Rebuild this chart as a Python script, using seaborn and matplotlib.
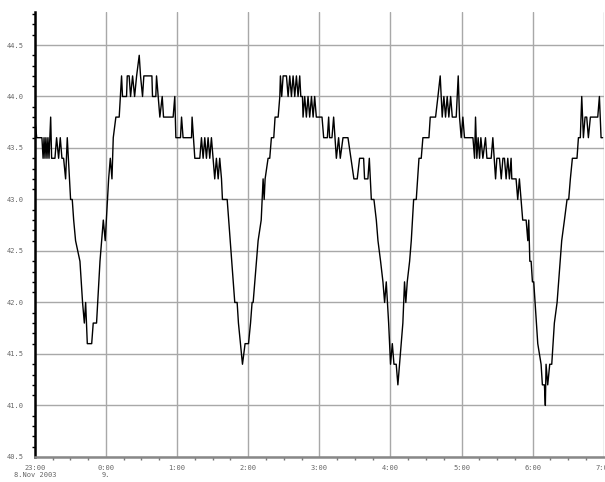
import pandas as pd
import matplotlib
matplotlib.use('Agg')
import matplotlib.pyplot as plt
import matplotlib.dates as mdates
from matplotlib.ticker import MultipleLocator
import seaborn as sns

# minutes after 8 Nov 2003 23:00 and the logged value
minutes = [0, 1.6, 6, 7, 7.8, 8.6, 9.4, 10.3, 11.1, 12, 13.4, 14.2, 17, 18.4, 20.1, 21.5, 22.9, 24.3, 26, 27.4,
           30.2, 31.6, 32.8, 34.4, 38.1, 40.3, 41.8, 42.9, 44.3, 48, 49.3, 52.1, 55, 57.8, 59.4, 62.3, 63.7, 65.1, 66.2,
           68.4, 71.2, 73.2, 74, 77.4, 78, 79.6, 80.8, 82.5, 84.2, 85.9, 88.1, 89.2, 90.9, 92, 98.8, 99.3, 102.1,
           102.7, 105.5, 107.5, 108.6, 116.7, 118.1, 119, 122.9, 123.8, 125.1, 132.2, 132.7, 135,
           139.2, 140.6, 142, 143.4, 144.8, 146.2, 147.6, 149, 150.4, 151.8, 153.2, 154.7, 156,
           157.5, 158.3, 162.3, 168.7, 170.7, 171.8, 175.2, 177.4, 180.3, 182, 183.3, 184.2, 188.4, 191, 192.6,
           193.5, 194.3, 196.8, 198.2, 199.6, 201.6, 202.7, 205.3, 206.7, 207.2, 208.3, 209.5, 212.3, 213.7,
           215.1, 216.5, 217.9, 219.3, 220.7, 222.1, 223.5, 224.4, 225.8, 226.3, 227.7, 229.1, 230.5, 231.9,
           233.4, 234.8, 236.1,
           237.5, 242.3, 243.7, 246.8, 247.9, 248.7, 250.7, 252.1, 254.4, 256.3, 257.7, 260, 264.2, 269.2, 272,
           274, 277.4, 278.2, 281, 282.2, 283.9, 286.1, 288.1, 289.5, 291.7, 293.7, 295.1, 296.5, 298.5, 300.1,
           301.6, 303, 304.9, 306.3, 310.5, 311.9, 313, 314.2,
           316.2, 317.6, 319.6, 321.8, 324.1, 326, 327.4, 332.5, 333.6, 338.1, 340.1, 342, 343.7, 345.1, 346.5,
           347.9, 349.3, 350.8, 352.2, 355.5, 357.2, 358.3, 359.7, 361.1, 362.5, 369.6, 371, 371.8, 372.9, 374,
           375.2, 376.3, 378, 380.2, 381.4, 385, 386.4, 388.7, 389.8, 392, 393.5, 394.9,
           396.2, 397.6, 399, 400.4, 401.8, 402.4, 406, 407.4, 408.8, 410.2, 411.6, 414.5, 415.9, 416.7, 417.6,
           418.7, 419.8, 420.9, 424.3, 427.1, 428.2, 429.9, 430.7, 431.3, 432.7, 434.4, 436.1, 438.3, 440.6,
           444.5, 446.8, 449, 450.4, 451.8, 453.5, 457.4, 458.6, 460.2, 461.4, 462.8, 464.2, 465.6, 467, 468.7,
           474.9, 476.3, 477.7, 479]
values = [43.8, 43.6, 43.6, 43.4, 43.6, 43.4, 43.6, 43.4, 43.6, 43.4, 43.8, 43.4, 43.4, 43.6, 43.4, 43.6, 43.4, 43.4, 43.2, 43.6,
          43.0, 43.0, 42.8, 42.6, 42.4, 42.0, 41.8, 42.0, 41.6, 41.6, 41.8, 41.8, 42.4, 42.8, 42.6, 43.2, 43.4, 43.2, 43.6,
          43.8, 43.8, 44.2, 44.0, 44.0, 44.2, 44.2, 44.0, 44.2, 44.0, 44.2, 44.4, 44.2, 44.0, 44.2, 44.2, 44.0, 44.0,
          44.2, 43.8, 44.0, 43.8, 43.8, 44.0, 43.6, 43.6, 43.8, 43.6, 43.6, 43.8, 43.4,
          43.4, 43.6, 43.4, 43.6, 43.4, 43.6, 43.4, 43.6, 43.4, 43.2, 43.4, 43.2, 43.4,
          43.2, 43.0, 43.0, 42.0, 42.0, 41.8, 41.4, 41.6, 41.6, 41.8, 42.0, 42.0, 42.6, 42.8, 43.2,
          43.0, 43.2, 43.4, 43.4, 43.6, 43.6, 43.8, 43.8, 44.0, 44.2, 44.0, 44.2, 44.2, 44.0,
          44.2, 44.0, 44.2, 44.0, 44.2, 44.0, 44.2, 44.0, 44.0, 43.8, 44.0, 43.8, 44.0, 43.8,
          44.0, 43.8, 44.0,
          43.8, 43.8, 43.6, 43.6, 43.8, 43.6, 43.6, 43.8, 43.4, 43.6, 43.4, 43.6, 43.6, 43.2, 43.2,
          43.4, 43.4, 43.2, 43.2, 43.4, 43.0, 43.0, 42.8, 42.6, 42.4, 42.2, 42.0, 42.2, 41.8, 41.4,
          41.6, 41.4, 41.4, 41.2, 41.8, 42.2, 42.0, 42.2,
          42.4, 42.6, 43.0, 43.0, 43.4, 43.4, 43.6, 43.6, 43.8, 43.8, 44.0, 44.2, 43.8, 44.0, 43.8,
          44.0, 43.8, 44.0, 43.8, 43.8, 44.2, 43.8, 43.6, 43.8, 43.6, 43.6, 43.4, 43.8, 43.4, 43.6,
          43.4, 43.6, 43.4, 43.6, 43.4, 43.4, 43.6, 43.2, 43.4, 43.4, 43.2, 43.4,
          43.4, 43.2, 43.4, 43.2, 43.4, 43.2, 43.2, 43.0, 43.2, 43.0, 42.8, 42.8, 42.6, 42.8, 42.4,
          42.4, 42.2, 42.2, 41.6, 41.4, 41.2, 41.2, 41.0, 41.4, 41.2, 41.4, 41.4, 41.8, 42.0,
          42.6, 42.8, 43.0, 43.0, 43.2, 43.4, 43.4, 43.6, 43.6, 44.0, 43.6, 43.8, 43.8, 43.6, 43.8,
          43.8, 44.0, 43.6, 43.6]

start = pd.Timestamp('2003-11-08 23:00')
tick_times = pd.date_range(start, periods=9, freq='h')
tick_labels = ['23:00\n8.Nov 2003', '0:00\n9.', '1:00', '2:00', '3:00', '4:00', '5:00', '6:00', '7:00']
y_ticks = [40.5, 41.0, 41.5, 42.0, 42.5, 43.0, 43.5, 44.0, 44.5]

df = pd.DataFrame({'time': start + pd.to_timedelta(minutes, unit='min'), 'value': values})

sns.set_style('white')
plt.rcParams['font.family'] = ['DejaVu Sans Mono']

fig = plt.figure(figsize=(6.05, 4.82), dpi=100)
ax = fig.add_axes([0.0575, 0.052, 0.9405, 0.923])

sns.lineplot(data=df, x='time', y='value', ax=ax, color='black', linewidth=1.0,
             estimator=None, sort=False)

ax.set_xlim(tick_times[0], tick_times[-1])
ax.set_ylim(40.5, 44.82)
ax.set_xticks(tick_times)
ax.set_xticklabels(tick_labels, fontsize=5, color='#666666', linespacing=1.15)
ax.xaxis.set_minor_locator(mdates.MinuteLocator(byminute=[15, 30, 45]))
ax.set_yticks(y_ticks)
ax.set_yticklabels([f'{v:.1f}' for v in y_ticks], fontsize=5, color='#666666')
ax.yaxis.set_minor_locator(MultipleLocator(0.1))

ax.grid(True, which='major', color='#a8a8a8', linewidth=1.0)
ax.set_axisbelow(True)
ax.set_xlabel('')
ax.set_ylabel('')

for side in ['top', 'right']:
    ax.spines[side].set_visible(False)
ax.spines['left'].set_color('black')
ax.spines['left'].set_linewidth(1.8)
ax.spines['bottom'].set_color('#888888')
ax.spines['bottom'].set_linewidth(1.8)

ax.tick_params(axis='y', which='major', length=4, width=1, color='black', pad=4)
ax.tick_params(axis='y', which='minor', length=2, width=1, color='black', left=True)
ax.tick_params(axis='x', which='major', length=4, width=1.2, color='#777777', pad=2)
ax.tick_params(axis='x', which='minor', length=2, width=1, color='#777777', bottom=True)

fig.savefig('out.png', dpi=100)
